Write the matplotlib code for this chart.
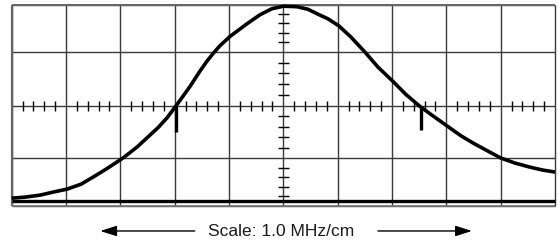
import numpy as np
import matplotlib
matplotlib.use("Agg")
import matplotlib.pyplot as plt

# trace, in graticule divisions (x: -5..5, y: 0..4)
freq_div = [-5.0, -4.76, -4.48, -4.24, -3.98, -3.72, -3.47, -3.23, -2.95, -2.69,
            -2.46, -2.30, -2.14, -1.98, -1.72, -1.54, -1.41, -1.30, -1.17, -0.98,
            -0.67, -0.43, -0.21, 0.0, 0.25, 0.45, 0.64, 0.82, 1.02, 1.24,
            1.50, 1.74, 2.03, 2.25, 2.51, 2.75, 3.01, 3.27, 3.52, 3.76,
            4.0, 4.26, 4.53, 4.77, 5.0]
level_div = [0.15, 0.17, 0.21, 0.27, 0.33, 0.43, 0.59, 0.75, 0.95, 1.17,
             1.40, 1.56, 1.75, 1.98, 2.37, 2.67, 2.87, 3.02, 3.18, 3.37,
             3.62, 3.80, 3.92, 3.97, 3.96, 3.91, 3.81, 3.72, 3.58, 3.36,
             3.06, 2.76, 2.46, 2.22, 1.98, 1.79, 1.59, 1.39, 1.23, 1.09,
             0.95, 0.85, 0.77, 0.71, 0.67]

# -3 dB markers
marker_x = [-1.98, 2.53]
marker_top = [1.98, 1.98]
marker_bottom = [1.47, 1.51]

col_lines = np.arange(-5, 6)
row_lines = [0, 0.943, 1.984, 3.065, 4]
center_y = 1.984
baseline_y = 0.094
label = "Scale: 1.0 MHz/cm"

fig = plt.figure(figsize=(5.58, 2.51), dpi=100)
ax = fig.add_axes([11.7 / 558, (251 - 206.7) / 251, 543.3 / 558, 201 / 251])
ax.set_xlim(-5, 5)
ax.set_ylim(0, 4)
ax.axis("off")

grid_col = "#3a3a3a"
ax.vlines(col_lines, 0, 4, color=grid_col, lw=1.0, clip_on=False)
ax.hlines(row_lines, -5, 5, color=grid_col, lw=1.0, clip_on=False)
ax.vlines([-5], 0, 4, color="#666666", lw=1.6, clip_on=False)
ax.hlines([4], -5, 5, color="#666666", lw=1.4, clip_on=False)
ax.hlines([0], -5, 5, color="#777777", lw=1.2, clip_on=False)

# minor ticks along the centre lines
xt = np.arange(-5, 5.01, 0.2)
xt = xt[np.abs(xt - np.round(xt)) > 1e-6]
ax.vlines(xt, center_y - 0.09, center_y + 0.09, color="black", lw=1.0)
yt = []
for lo, hi in zip(row_lines[:-1], row_lines[1:]):
    yt.extend(np.linspace(lo, hi, 6)[1:-1])
ax.hlines(yt, -0.1, 0.1, color="black", lw=1.0)

# thick baseline
ax.hlines([baseline_y], -5, 5, color="black", lw=2.4, clip_on=False)

# trace
ax.plot(freq_div, level_div, color="black", lw=2.6, solid_capstyle="butt",
        solid_joinstyle="round", clip_on=False)
ax.vlines(marker_x, marker_bottom, marker_top, color="black", lw=2.4)

# scale caption with arrows
ax.text(-0.05, -0.503, label, ha="center", va="center", fontsize=12.5,
        family="Liberation Sans", color="#1a1a1a")
ap = dict(arrowstyle="-|>,head_length=1.0,head_width=0.32", lw=1.0,
          color="black", shrinkA=0, shrinkB=0)
ax.annotate("", xy=(-3.37, -0.503), xytext=(-1.63, -0.503), arrowprops=ap,
            annotation_clip=False)
ax.annotate("", xy=(3.47, -0.503), xytext=(1.74, -0.503), arrowprops=ap,
            annotation_clip=False)

fig.savefig("out.png", dpi=100)
